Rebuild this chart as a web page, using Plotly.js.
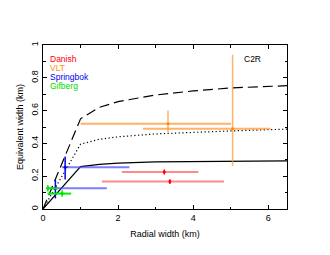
<!DOCTYPE html>
<html><head><meta charset="utf-8">
<script src="https://cdn.plot.ly/plotly-3.0.1.min.js"></script>
<style>html,body{margin:0;padding:0;background:#fff}#c{width:330px;height:255px}</style>
</head><body><div id="c"></div>
<script>
// Model curves
const modelX = [0, 1, 1.5, 2, 3, 4, 5, 6.5];
const solidY  = [0, 0.258, 0.272, 0.280, 0.287, 0.290, 0.292, 0.294];
const dashedY = [0, 0.550, 0.620, 0.655, 0.695, 0.720, 0.738, 0.752];
const dottedY = [0, 0.395, 0.425, 0.440, 0.458, 0.468, 0.476, 0.487];

// Observations
const danishX = [3.23, 3.38], danishY = [0.226, 0.167];
const danishXplus = [0.91, 1.44], danishXminus = [1.13, 1.81];
const danishYerr = [0.015, 0.015];

const vltX = [3.33, 5.05], vltY = [0.52, 0.489];
const vltXplus = [1.68, 1.01], vltXminus = [2.33, 2.39];
const vltYplus = [0.08, 0.451], vltYminus = [0.05, 0.226];

const sbX = [0.59, 0.33], sbY = [0.255, 0.126];
const sbXplus = [1.71, 1.37], sbXminus = [0.09, 0.14];
const sbYplus = [0.065, 0.051], sbYminus = [0.075, 0.061];

const gbX = [0.13, 0.51], gbY = [0.126, 0.094];
const gbXplus = [0.25, 0.24], gbXminus = [0.04, 0.39];
const gbYerr = [0.02, 0.02];

const xTicks = [0, 2, 4, 6];
const yTicks = [0, 0.2, 0.4, 0.6, 0.8, 1];

function obs(x, y, xp, xm, yp, ym, cx, cy, cm) {
  return {x: x, y: y, type: 'scatter', mode: 'markers',
    marker: {color: cm, size: 3},
    error_x: {type: 'data', symmetric: false, array: xp, arrayminus: xm, color: cx, thickness: 2, width: 0},
    error_y: {type: 'data', symmetric: false, array: yp, arrayminus: ym, color: cy, thickness: 1.5, width: 0},
    hoverinfo: 'skip'};
}

const traces = [
  {x: modelX, y: solidY, mode: 'lines', line: {color: '#000', width: 1.2}},
  {x: modelX, y: dashedY, mode: 'lines', line: {color: '#000', width: 1.2, dash: '10px,5px'}},
  {x: modelX, y: dottedY, mode: 'lines', line: {color: '#000', width: 1.2, dash: '1.2px,2.5px'}},
  obs(danishX, danishY, danishXplus, danishXminus, danishYerr, danishYerr, 'rgba(255,60,60,0.6)', '#ff0000', '#ff0000'),
  obs(vltX, vltY, vltXplus, vltXminus, vltYplus, vltYminus, 'rgba(255,145,40,0.7)', 'rgba(255,145,40,0.7)', '#ff8c00'),
  obs(sbX, sbY, sbXplus, sbXminus, sbYplus, sbYminus, 'rgba(70,70,255,0.7)', '#0000ee', '#0000ee'),
  obs(gbX, gbY, gbXplus, gbXminus, gbYerr, gbYerr, '#00ee00', '#00ee00', '#00dd00')
];

const font = {family: 'Liberation Sans, Arial, sans-serif', size: 9, color: '#000'};
const axBase = {showgrid: false, zeroline: false, showline: true, linecolor: '#000', linewidth: 1,
  mirror: 'allticks', ticks: 'inside', ticklen: 4, tickcolor: '#000', tickfont: {size: 9, color: '#000'}};

const layout = {
  width: 330, height: 255, showlegend: false,
  margin: {l: 43, r: 43, t: 45, b: 46},
  paper_bgcolor: '#fff', plot_bgcolor: '#fff', font: font,
  xaxis: Object.assign({}, axBase, {range: [0, 6.5], tickvals: xTicks, ticktext: xTicks.map(String),
    minor: {dtick: 1, ticks: 'inside', ticklen: 2.5, tickcolor: '#000'},
    title: {text: 'Radial width (km)', font: {size: 9}, standoff: 8}}),
  yaxis: Object.assign({}, axBase, {range: [0, 1], tickvals: yTicks, ticktext: yTicks.map(String), tickangle: -90,
    minor: {dtick: 0.1, ticks: 'inside', ticklen: 2.5, tickcolor: '#000'},
    title: {text: 'Equivalent width (km)', font: {size: 9}, standoff: 5}}),
  annotations: [
    {text: 'Danish', x: 0.025, y: 0.915, color: '#ff0000'},
    {text: 'VLT', x: 0.025, y: 0.860, color: '#ff8c00'},
    {text: 'Springbok', x: 0.025, y: 0.805, color: '#0000ee'},
    {text: 'Gifberg', x: 0.025, y: 0.750, color: '#00dd00'},
    {text: 'C2R', x: 0.82, y: 0.912, color: '#000'}
  ].map(a => ({xref: 'paper', yref: 'paper', x: a.x, y: a.y, text: a.text, showarrow: false,
    xanchor: 'left', yanchor: 'middle', borderpad: 0, font: {size: 8.5, color: a.color}}))
};

Plotly.newPlot('c', traces, layout, {staticPlot: true, displayModeBar: false});
</script></body></html>
